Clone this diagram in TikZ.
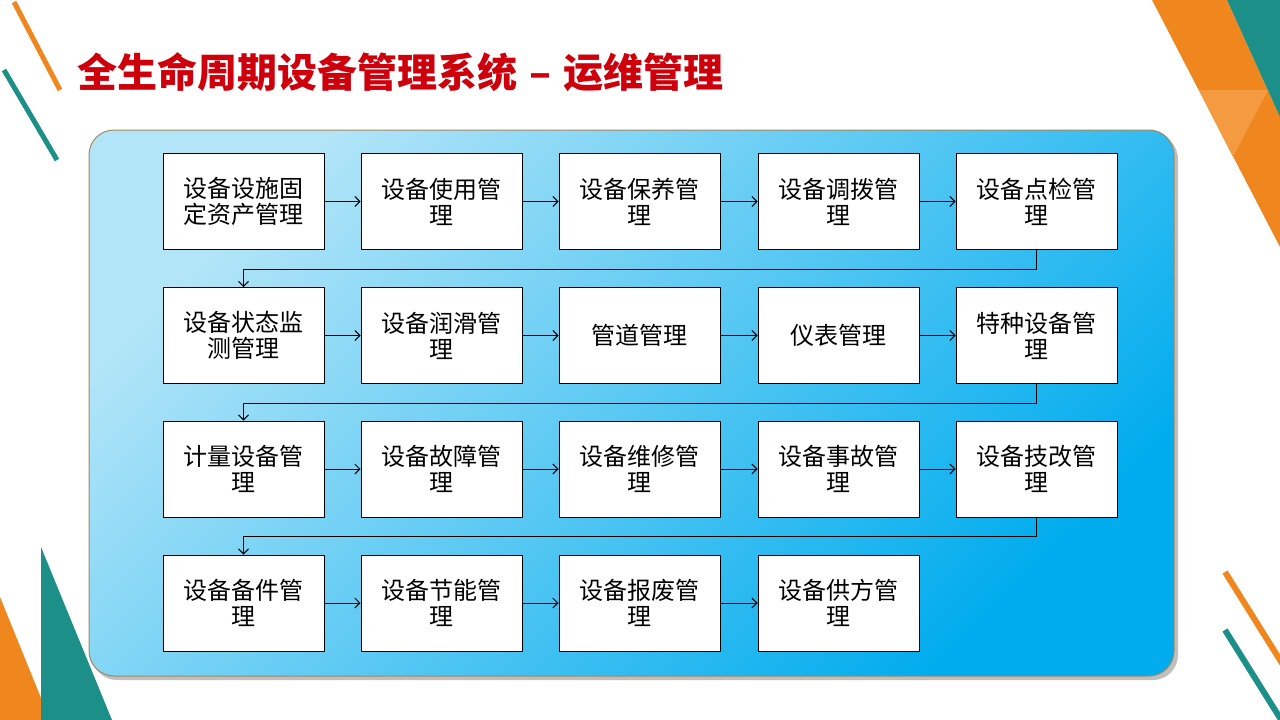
\documentclass[tikz,border=0pt]{standalone}
\usepackage{fontspec}
\newfontfamily\cjk{Noto Sans CJK SC}
\usetikzlibrary{arrows.meta}
\definecolor{decoorange}{RGB}{240,134,30}
\definecolor{decolight}{RGB}{244,155,66}
\definecolor{decoteal}{RGB}{27,143,136}
\definecolor{titlered}{RGB}{205,0,12}
\definecolor{panellight}{RGB}{178,229,248}
\definecolor{panelmid}{RGB}{96,202,243}
\definecolor{paneldark}{RGB}{0,172,238}
\definecolor{panelrim}{RGB}{165,135,95}
\begin{document}
\begin{tikzpicture}[x=1pt, y=-1pt,
    every node/.style={font=\cjk\fontsize{24}{26}\selectfont},
    titletext/.style={font=\cjk\bfseries\fontsize{40}{44}\selectfont, anchor=west, inner sep=0pt},
    box/.style={draw=black, line width=1pt, fill=white, minimum width=161pt, minimum height=96pt, align=center, inner sep=0pt},
    arr/.style={-{Straight Barb[length=5pt, width=10pt]}, line width=1pt}
]
\useasboundingbox (0,0) rectangle (1280,720);
\fill[white] (0,0) rectangle (1280,720);

% corner decorations
\draw[decoorange, line width=5pt] (14,2) -- (60,90);
\draw[decoteal, line width=5pt] (4,70) -- (57,160);
\fill[decoorange] (1152,0) -- (1227,0) -- (1280,117) -- (1280,247) -- cycle;
\fill[decoteal] (1227,0) -- (1280,0) -- (1280,117) -- cycle;
\fill[decolight] (1199,90) -- (1268,90) -- (1233,157) -- cycle;
\fill[decoorange] (0,597) -- (50,720) -- (0,720) -- cycle;
\fill[decoteal] (41,547) -- (112,720) -- (41,720) -- cycle;
\draw[decoorange, line width=6pt] (1225,572) -- (1290,676);
\draw[decoteal, line width=6pt] (1225,630) -- (1290,734);

% title
\node[titletext, text=titlered] (title) at (77,72) {全生命周期设备管理系统\hspace{12pt}–\hspace{12pt}运维管理};

% panel
\fill[black, opacity=0.25, rounded corners=25pt] (92,134) rectangle (1178,680);
\shade[top color=panellight, middle color=panelmid, bottom color=paneldark, shading angle=45, rounded corners=25pt] (89,130) rectangle (1174,676);
\draw[panelrim, line width=1pt, rounded corners=25pt] (89,130) rectangle (1174,676);

% Row 1
\node[box] (r1c1) at (243.5,201.5) {设备设施固\\定资产管理};
\node[box] (r1c2) at (441.5,201.5) {设备使用管\\理};
\node[box] (r1c3) at (639.5,201.5) {设备保养管\\理};
\node[box] (r1c4) at (838.5,201.5) {设备调拨管\\理};
\node[box] (r1c5) at (1036.5,201.5) {设备点检管\\理};
% Row 2
\node[box] (r2c1) at (243.5,335.5) {设备状态监\\测管理};
\node[box] (r2c2) at (441.5,335.5) {设备润滑管\\理};
\node[box] (r2c3) at (639.5,335.5) {管道管理};
\node[box] (r2c4) at (838.5,335.5) {仪表管理};
\node[box] (r2c5) at (1036.5,335.5) {特种设备管\\理};
% Row 3
\node[box] (r3c1) at (243.5,469) {计量设备管\\理};
\node[box] (r3c2) at (441.5,469) {设备故障管\\理};
\node[box] (r3c3) at (639.5,469) {设备维修管\\理};
\node[box] (r3c4) at (838.5,469) {设备事故管\\理};
\node[box] (r3c5) at (1036.5,469) {设备技改管\\理};
% Row 4
\node[box] (r4c1) at (243.5,603) {设备备件管\\理};
\node[box] (r4c2) at (441.5,603) {设备节能管\\理};
\node[box] (r4c3) at (639.5,603) {设备报废管\\理};
\node[box] (r4c4) at (838.5,603) {设备供方管\\理};

% Arrows within rows
\draw[arr] (r1c1) -- (r1c2);
\draw[arr] (r1c2) -- (r1c3);
\draw[arr] (r1c3) -- (r1c4);
\draw[arr] (r1c4) -- (r1c5);
\draw[arr] (r2c1) -- (r2c2);
\draw[arr] (r2c2) -- (r2c3);
\draw[arr] (r2c3) -- (r2c4);
\draw[arr] (r2c4) -- (r2c5);
\draw[arr] (r3c1) -- (r3c2);
\draw[arr] (r3c2) -- (r3c3);
\draw[arr] (r3c3) -- (r3c4);
\draw[arr] (r3c4) -- (r3c5);
\draw[arr] (r4c1) -- (r4c2);
\draw[arr] (r4c2) -- (r4c3);
\draw[arr] (r4c3) -- (r4c4);

% Arrows between rows
\draw[arr] (r1c5.south) -- ++(0,19) -| (r2c1.north);
\draw[arr] (r2c5.south) -- ++(0,19) -| (r3c1.north);
\draw[arr] (r3c5.south) -- ++(0,19) -| (r4c1.north);
\end{tikzpicture}
\end{document}
